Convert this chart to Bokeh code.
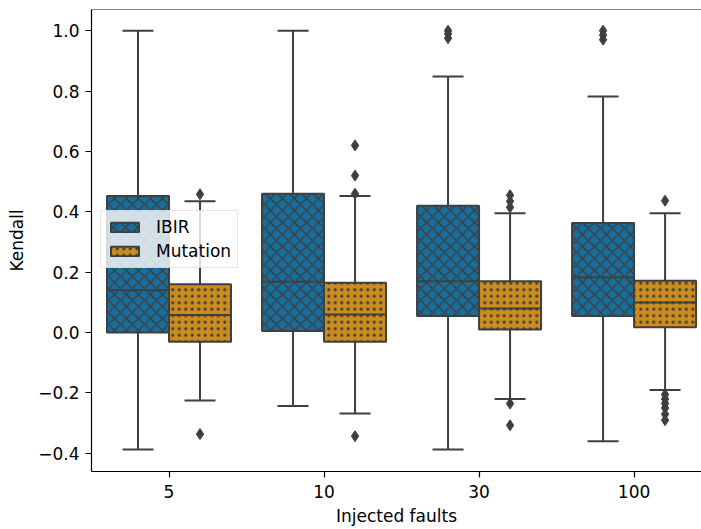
from bokeh.plotting import figure
from bokeh.models import (Range1d, FixedTicker, CustomJSTickFormatter, Span,
                          Legend, LegendItem, ColumnDataSource)
from bokeh.embed import file_html
from bokeh.resources import INLINE

# ---- data ----
categories = ["5", "10", "30", "100"]
hue_levels = ["IBIR", "Mutation"]

ibir_q1 = [0.0, 0.005, 0.055, 0.055]
ibir_med = [0.14, 0.168, 0.17, 0.183]
ibir_q3 = [0.452, 0.46, 0.42, 0.363]
ibir_lo = [-0.387, -0.243, -0.387, -0.36]
ibir_hi = [1.0, 1.0, 0.848, 0.782]
ibir_out = [[], [], [1.0, 0.99, 0.975], [1.0, 0.985, 0.97]]

mut_q1 = [-0.03, -0.03, 0.01, 0.018]
mut_med = [0.058, 0.06, 0.08, 0.1]
mut_q3 = [0.16, 0.165, 0.17, 0.172]
mut_lo = [-0.225, -0.268, -0.22, -0.19]
mut_hi = [0.435, 0.452, 0.395, 0.395]
mut_out = [[0.458, -0.336],
           [0.62, 0.52, 0.46, -0.343],
           [0.455, 0.435, 0.415, -0.235, -0.307],
           [0.437, -0.205, -0.22, -0.235, -0.25, -0.27, -0.29]]

y_ticks = [-0.4, -0.2, 0.0, 0.2, 0.4, 0.6, 0.8, 1.0]

stats = {
    "IBIR": (ibir_q1, ibir_med, ibir_q3, ibir_lo, ibir_hi, ibir_out),
    "Mutation": (mut_q1, mut_med, mut_q3, mut_lo, mut_hi, mut_out),
}
fill_colors = {"IBIR": "#176e9c", "Mutation": "#cc8d1d"}
hatches = {"IBIR": "diagonal_cross", "Mutation": "dot"}
hatch_scales = {"IBIR": 12, "Mutation": 6.5}
hatch_weights = {"IBIR": 1.4, "Mutation": 2.2}
offsets = {"IBIR": -0.2, "Mutation": 0.2}
box_w = 0.4
gray = "#3f3f3f"
FONT = "DejaVu Sans"
FS = "17px"

p = figure(width=701, height=529, output_backend="svg", toolbar_location=None,
           x_range=Range1d(-0.5, 3.435), y_range=Range1d(-0.46, 1.07),
           min_border_left=91, min_border_right=0, min_border_top=9,
           min_border_bottom=58, title=None)
p.background_fill_color = "white"
p.border_fill_color = "white"
p.outline_line_color = None
p.grid.grid_line_color = None

renderers = {}
for hue in hue_levels:
    q1, med, q3, lo, hi, outs = stats[hue]
    xs = [i + offsets[hue] for i in range(len(categories))]
    src = ColumnDataSource(dict(
        x=xs, left=[x - box_w / 2 for x in xs], right=[x + box_w / 2 for x in xs],
        q1=q1, med=med, q3=q3, lo=lo, hi=hi,
        cl=[x - box_w / 4 for x in xs], cr=[x + box_w / 4 for x in xs]))
    # whiskers
    p.segment(x0="x", y0="q3", x1="x", y1="hi", source=src, line_color=gray, line_width=2)
    p.segment(x0="x", y0="q1", x1="x", y1="lo", source=src, line_color=gray, line_width=2)
    # caps
    p.segment(x0="cl", y0="hi", x1="cr", y1="hi", source=src, line_color=gray, line_width=2)
    p.segment(x0="cl", y0="lo", x1="cr", y1="lo", source=src, line_color=gray, line_width=2)
    # boxes
    r = p.quad(left="left", right="right", bottom="q1", top="q3", source=src,
               fill_color=fill_colors[hue], line_color=gray, line_width=2,
               hatch_pattern=hatches[hue], hatch_color=gray,
               hatch_scale=hatch_scales[hue], hatch_weight=hatch_weights[hue])
    renderers[hue] = r
    # medians
    p.segment(x0="left", y0="med", x1="right", y1="med", source=src,
              line_color=gray, line_width=2)
    # outliers
    ox, oy = [], []
    for i, vals in enumerate(outs):
        for v in vals:
            ox.append(i + offsets[hue])
            oy.append(v)
    p.scatter(x=ox, y=oy, marker="diamond", size=11, fill_color=gray, line_color=gray)

# top spine
p.add_layout(Span(location=1.07, dimension="width", line_color="black", line_width=1.2))

# axes
p.xaxis.ticker = FixedTicker(ticks=list(range(len(categories))))
p.xaxis.major_label_overrides = {i: c for i, c in enumerate(categories)}
p.yaxis.ticker = FixedTicker(ticks=y_ticks)
p.yaxis.formatter = CustomJSTickFormatter(code="return tick.toFixed(1).replace('-', '\\u2212');")
p.xaxis.axis_label = "Injected faults"
p.yaxis.axis_label = "Kendall"
for ax in (p.xaxis, p.yaxis):
    ax.axis_line_color = "black"
    ax.axis_line_width = 1.2
    ax.major_tick_line_color = "black"
    ax.major_tick_line_width = 1.2
    ax.major_tick_in = 0
    ax.major_tick_out = 6
    ax.minor_tick_line_color = None
    ax.major_label_text_font = FONT
    ax.major_label_text_font_size = FS
    ax.major_label_text_color = "black"
    ax.axis_label_text_font = FONT
    ax.axis_label_text_font_size = FS
    ax.axis_label_text_font_style = "normal"
    ax.axis_label_text_color = "black"
p.xaxis.major_label_standoff = 7
p.xaxis.axis_label_standoff = 5
p.yaxis.major_label_standoff = 6
p.yaxis.axis_label_standoff = 8

legend = Legend(items=[LegendItem(label=h, renderers=[renderers[h]]) for h in hue_levels],
                location=(9, 203))
legend.background_fill_color = "white"
legend.background_fill_alpha = 0.8
legend.border_line_color = "#cccccc"
legend.border_line_width = 1
legend.label_text_font = FONT
legend.label_text_font_size = FS
legend.label_text_color = "black"
legend.glyph_width = 35
legend.glyph_height = 12
legend.label_standoff = 14
legend.padding = 6
legend.spacing = 4
legend.label_height = 20
legend.margin = 0
p.add_layout(legend)

open("out.html", "w").write(file_html(p, INLINE))
